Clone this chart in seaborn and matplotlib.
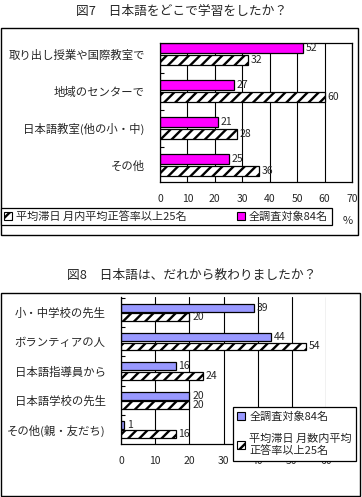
import matplotlib
matplotlib.use("Agg")
import matplotlib.pyplot as plt
from matplotlib.patches import Rectangle, Patch
import seaborn as sns
import pandas as pd

# ---------------- data ----------------
title1 = "図7　日本語をどこで学習をしたか？"
cats1 = ["取り出し授業や国際教室で", "地域のセンターで", "日本語教室(他の小・中)", "その他"]
series1 = ["全調査対象84名", "平均滞日 月内平均正答率以上25名"]
all1 = [52, 27, 21, 25]
hi1 = [32, 60, 28, 36]
xticks1 = [0, 10, 20, 30, 40, 50, 60, 70]

title2 = "図8　日本語は、だれから教わりましたか？"
cats2 = ["小・中学校の先生", "ボランティアの人", "日本語指導員から", "日本語学校の先生", "その他(親・友だち)"]
series2 = ["全調査対象84名", "平均滞日 月数内平均\n正答率以上25名"]
all2 = [39, 44, 16, 20, 1]
hi2 = [20, 54, 24, 20, 16]
xticks2 = [0, 10, 20, 30, 40, 50, 60]

# ---------------- style ----------------
sns.set_style("white")
plt.rcParams["font.family"] = ["Noto Sans CJK JP", "DejaVu Sans"]
plt.rcParams["hatch.linewidth"] = 1.7

W, H = 362, 497
fig = plt.figure(figsize=(W / 100, H / 100), dpi=100)
HATCH = "///"


def fx(px):
    return px / W


def fy(py):
    return 1 - py / H


def draw(ax, cats, series, v_all, v_hi, color, xticks, xmax, ylim, spines_all):
    df = pd.DataFrame({
        "cat": cats * 2,
        "series": [series[0]] * len(cats) + [series[1]] * len(cats),
        "value": list(v_all) + list(v_hi),
    })
    sns.barplot(data=df, y="cat", x="value", hue="series", orient="h",
                palette=[color, "white"], width=0.64, gap=0.15,
                edgecolor="black", linewidth=0.9, ax=ax, legend=False,
                saturation=1)
    for p in ax.containers[1]:
        p.set_hatch(HATCH)
        p.set_facecolor("white")
        p.set_edgecolor("black")
    for c in ax.containers:
        ax.bar_label(c, padding=2, fontsize=7.5)
    ax.set_xlim(0, xmax)
    ax.set_ylim(*ylim)
    ax.set_xticks(xticks)
    ax.set_xticklabels([str(t) for t in xticks], fontsize=7.5)
    ax.tick_params(axis="x", length=0, pad=9)
    ax.tick_params(axis="y", length=0, pad=11, labelsize=8.2)
    ax.set_yticks(range(len(cats)), cats)
    ax.set_yticks([i + 0.5 for i in range(len(cats) - 1)] + ([-0.5] if not spines_all else []), minor=True)
    ax.tick_params(axis="y", which="minor", direction="in", length=3, width=0.8, color="black", left=True)
    ax.grid(axis="x", color="black", linewidth=0.8)
    ax.set_axisbelow(True)
    ax.set_xlabel("")
    ax.set_ylabel("")
    for s in ax.spines.values():
        s.set_color("black")
        s.set_linewidth(0.9)
    if not spines_all:
        ax.spines["top"].set_visible(False)
        ax.spines["right"].set_visible(False)


# ---------------- chart 1 ----------------
ax1 = fig.add_axes([fx(160), fy(182), fx(192), 139 / H])
draw(ax1, cats1, series1, all1, hi1, "#FF00FF", xticks1, 70, (3.46, -0.3), True)
ax1.set_yticks([0.5, 1.5, 2.5], minor=True)
fig.text(fx(182), fy(12), title1, ha="center", va="center", fontsize=9.2)
fig.patches.append(Rectangle((fx(0.5), fy(235)), fx(357.5), 207 / H, transform=fig.transFigure,
                             fill=False, edgecolor="black", linewidth=1))
h_hatch = Patch(facecolor="white", edgecolor="black", hatch=HATCH, linewidth=0.8)
h_mag = Patch(facecolor="#FF00FF", edgecolor="black", linewidth=0.8)
lg1 = fig.legend([h_hatch, h_mag], [series1[1], series1[0]], ncol=2,
                 loc="center", bbox_to_anchor=(fx(0.5), fy(228), fx(331), 23 / H), mode="expand",
                 fontsize=8, frameon=True, fancybox=False, edgecolor="black", framealpha=1,
                 handlelength=0.7, handleheight=0.7, handletextpad=0.35, borderpad=0.3,
                 borderaxespad=0, columnspacing=1.5)
lg1.get_frame().set_linewidth(0.9)
fig.text(fx(348), fy(221), "%", ha="center", va="center", fontsize=8)

# ---------------- chart 2 ----------------
ax2 = fig.add_axes([fx(121), fy(444), fx(205), 147 / H])
draw(ax2, cats2, series2, all2, hi2, "#9999FF", xticks2, 60, (4.49, -0.53), False)
fig.text(fx(192), fy(275), title2, ha="center", va="center", fontsize=9.2)
fig.patches.append(Rectangle((fx(0.5), fy(496)), fx(359.5), 203 / H, transform=fig.transFigure,
                             fill=False, edgecolor="black", linewidth=1))
h_blue = Patch(facecolor="#9999FF", edgecolor="black", linewidth=0.8)
lg2 = fig.legend([h_blue, h_hatch], [series2[0], series2[1]], ncol=1,
                 loc="center left", bbox_to_anchor=(fx(233), fy(465), fx(128), 62 / H),
                 fontsize=8, frameon=True, fancybox=False, edgecolor="black", framealpha=1,
                 handlelength=0.7, handleheight=0.7, handletextpad=0.35, borderpad=0.4,
                 borderaxespad=0, labelspacing=1.0)
lg2.get_frame().set_linewidth(0.9)

fig.savefig("out.png", dpi=100)
